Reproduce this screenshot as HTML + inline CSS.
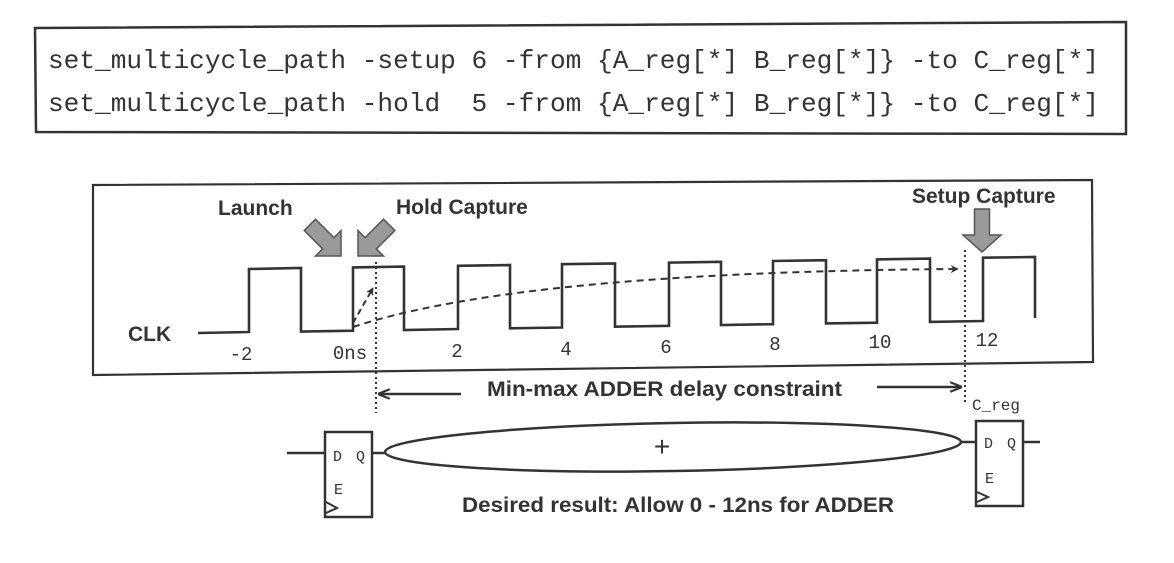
<!DOCTYPE html>
<html><head><meta charset="utf-8"><style>
html,body{margin:0;padding:0;background:#fff;width:1174px;height:563px;overflow:hidden}
svg{display:block}
.b{font-family:"Liberation Sans",sans-serif;font-weight:bold;fill:#333}
.m{font-family:"Liberation Mono",monospace;fill:#333}
</style></head><body>
<svg width="1174" height="563" viewBox="0 0 1174 563" xmlns="http://www.w3.org/2000/svg">
<defs>
<marker id="ah" viewBox="0 0 10 10" refX="9" refY="5" markerWidth="8" markerHeight="8" orient="auto" markerUnits="userSpaceOnUse">
<path d="M0,0 L10,5 L0,10 L3,5 z" fill="#333"/></marker>
<marker id="ah2" viewBox="0 0 10 10" refX="9" refY="5" markerWidth="12" markerHeight="12" orient="auto" markerUnits="userSpaceOnUse">
<path d="M0,1 L10,5 L0,9" fill="none" stroke="#333" stroke-width="1.8"/></marker>
</defs>
<!-- code box -->
<polygon points="35,28 1126,22 1126,134 36,132" fill="none" stroke="#333" stroke-width="2.5"/>
<text class="m" x="48" y="68" font-size="26" textLength="1051" lengthAdjust="spacingAndGlyphs" xml:space="preserve">set_multicycle_path -setup 6 -from {A_reg[*] B_reg[*]} -to C_reg[*]</text>
<text class="m" x="48" y="111" font-size="26" textLength="1051" lengthAdjust="spacingAndGlyphs" xml:space="preserve">set_multicycle_path -hold  5 -from {A_reg[*] B_reg[*]} -to C_reg[*]</text>
<!-- timing box -->
<polygon points="93,185 1092,180 1093,362 93,375" fill="none" stroke="#333" stroke-width="2.2"/>
<text class="b" x="128" y="341" font-size="21">CLK</text>
<text class="b" x="218" y="215" font-size="21">Launch</text>
<text class="b" x="396" y="214" font-size="21">Hold Capture</text>
<text class="b" x="912" y="203" font-size="21">Setup Capture</text>
<!-- arrows -->
<g fill="#9a9a9a" stroke="#555" stroke-width="1.5">
<polygon transform="translate(341,256) rotate(45)" points="-44,-8 -18,-8 -18,-18 0,0 -18,18 -18,8 -44,8"/>
<polygon transform="translate(358,256) rotate(135)" points="-44,-8 -18,-8 -18,-18 0,0 -18,18 -18,8 -44,8"/>
<polygon transform="translate(982,252) rotate(90)" points="-43,-7.5 -17,-7.5 -17,-19 0,0 -17,19 -17,7.5 -43,7.5"/>
</g>
<!-- clock -->
<polyline fill="none" stroke="#333" stroke-width="2.6" stroke-linejoin="miter" points="198,333 249,332 249,269 301,268 301,331.5 353,330.7 353,267.4 404,266.6 404,330 458,329 458,265.8 510,265 510,328.3 562,327.5 562,264.2 615,263.4 615,326.7 669,325.8 669,262.6 721,261.8 721,325 773,324.2 773,261 826,260.2 826,323.4 877,322.7 877,259.4 930,258.6 930,321.9 983,321 983,257.7 1035,257 1035,318"/>
<g class="m" font-size="19" text-anchor="middle">
<text x="241" y="360">-2</text>
<text x="350" y="359">0ns</text>
<text x="457" y="357">2</text>
<text x="566" y="355">4</text>
<text x="666" y="353">6</text>
<text x="775" y="350">8</text>
<text x="880" y="348">10</text>
<text x="987" y="346">12</text>
</g>
<!-- dotted lines -->
<line x1="376" y1="262" x2="376" y2="413" stroke="#333" stroke-width="2" stroke-dasharray="2,3"/>
<line x1="965" y1="250" x2="965" y2="404" stroke="#333" stroke-width="2" stroke-dasharray="2,3"/>
<!-- dashed paths -->
<path d="M353,323 L373,288" fill="none" stroke="#333" stroke-width="2" stroke-dasharray="6,4" marker-end="url(#ah)"/>
<path d="M353,327 Q520,272 958,269" fill="none" stroke="#333" stroke-width="2" stroke-dasharray="7,5" marker-end="url(#ah)"/>
<!-- constraint -->
<line x1="461" y1="394" x2="379" y2="394" stroke="#333" stroke-width="2.5" marker-end="url(#ah2)"/>
<text class="b" x="487" y="396" font-size="21" textLength="355" lengthAdjust="spacingAndGlyphs">Min-max ADDER delay constraint</text>
<line x1="877" y1="387" x2="961" y2="387" stroke="#333" stroke-width="2.5" marker-end="url(#ah2)"/>
<!-- left flop -->
<line x1="287" y1="453" x2="325" y2="453" stroke="#333" stroke-width="2.5"/>
<rect x="325" y="432" width="47" height="85" fill="none" stroke="#333" stroke-width="2.5"/>
<text class="m" x="333" y="461" font-size="15">D</text>
<text class="m" x="356" y="461" font-size="15">Q</text>
<text class="m" x="334" y="494" font-size="15">E</text>
<polyline points="326,502 337,508 326,513" fill="none" stroke="#333" stroke-width="2"/>
<line x1="372" y1="453" x2="386" y2="453" stroke="#333" stroke-width="2.5"/>
<!-- ellipse -->
<ellipse cx="673" cy="447" rx="288" ry="24" fill="none" stroke="#333" stroke-width="2.5" transform="rotate(-1 673 447)"/>
<text x="662" y="456" font-family="Liberation Sans,sans-serif" font-size="28" fill="#333" text-anchor="middle">+</text>
<text class="b" x="462" y="512" font-size="21" textLength="432" lengthAdjust="spacingAndGlyphs">Desired result: Allow 0 - 12ns for ADDER</text>
<!-- right flop -->
<text class="m" x="972" y="410" font-size="16">C_reg</text>
<line x1="960" y1="442" x2="976" y2="442" stroke="#333" stroke-width="2.5"/>
<rect x="976" y="421" width="47" height="85" fill="none" stroke="#333" stroke-width="2.5"/>
<text class="m" x="984" y="448" font-size="15">D</text>
<text class="m" x="1007" y="448" font-size="15">Q</text>
<text class="m" x="985" y="483" font-size="15">E</text>
<polyline points="977,492 988,497 977,502" fill="none" stroke="#333" stroke-width="2"/>
<line x1="1023" y1="442" x2="1040" y2="442" stroke="#333" stroke-width="2.5"/>
</svg>
</body></html>
